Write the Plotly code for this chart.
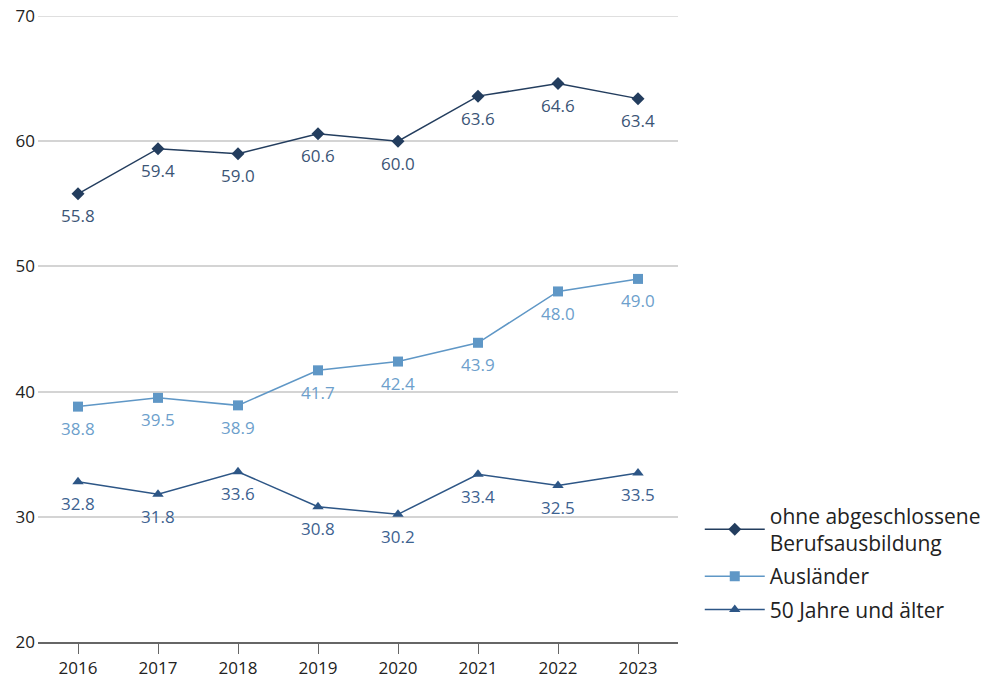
import plotly.graph_objects as go

years = ["2016", "2017", "2018", "2019", "2020", "2021", "2022", "2023"]
ohne_ausbildung = [55.8, 59.4, 59.0, 60.6, 60.0, 63.6, 64.6, 63.4]
auslaender = [38.8, 39.5, 38.9, 41.7, 42.4, 43.9, 48.0, 49.0]
ab_50_jahre = [32.8, 31.8, 33.6, 30.8, 30.2, 33.4, 32.5, 33.5]
y_ticks = [20, 30, 40, 50, 60, 70]

series = [
    ("ohne abgeschlossene<br>Berufsausbildung", ohne_ausbildung, "#233d5e", "#3b5576", "diamond"),
    ("Ausländer", auslaender, "#5f97c6", "#6d9fcc", "square"),
    ("50 Jahre und älter", ab_50_jahre, "#2d5686", "#3d6290", "triangle-up"),
]

FONT = "Open Sans"

fig = go.Figure()
annotations = []
for k, (name, vals, color, tcolor, sym) in enumerate(series):
    fig.add_trace(go.Scatter(
        x=years, y=vals, name=name, legendgroup=f"g{k}",
        mode="lines+markers",
        line=dict(color=color, width=1.5),
        marker=dict(symbol=sym, size=10, color=color),
    ))
    # value labels below each point (category index on the x axis)
    for i, v in enumerate(vals):
        annotations.append(dict(
            x=i, y=v, xref="x", yref="y",
            text=f"{v:.1f}", showarrow=False,
            yshift=-22, yanchor="middle",
            font=dict(family=FONT, size=17, color=tcolor),
        ))

# top grid line sits on the plot edge, draw it explicitly
fig.add_shape(type="line", xref="paper", x0=0, x1=1, yref="y", y0=y_ticks[-1], y1=y_ticks[-1],
              line=dict(color="#d4d4d4", width=1.5), layer="below")

fig.update_layout(
    width=989, height=682,
    margin=dict(l=38, r=311, t=16, b=40, autoexpand=False),
    plot_bgcolor="white", paper_bgcolor="white",
    font=dict(family=FONT, size=17, color="#222222"),
    showlegend=True,
    annotations=annotations,
    legend=dict(
        x=1.034, y=0.234, xanchor="left", yanchor="top",
        font=dict(family=FONT, size=21, color="#222222"),
        tracegroupgap=3, itemwidth=60,
        bgcolor="rgba(0,0,0,0)",
    ),
    xaxis=dict(
        type="category", range=[-0.5, 7.5], automargin=False,
        showgrid=False, showline=True, linecolor="#666666", linewidth=1.5,
        ticks="outside", ticklen=10, tickcolor="#666666",
        tickfont=dict(size=17, color="#222222"),
    ),
    yaxis=dict(
        range=[y_ticks[0], y_ticks[-1]], tickvals=y_ticks, automargin=False,
        showgrid=True, gridcolor="#d4d4d4", gridwidth=1.5,
        zeroline=False, showline=False,
        ticks="", ticklabelstandoff=2,
        tickfont=dict(size=17, color="#222222"),
    ),
)

fig.write_html("out.html")
